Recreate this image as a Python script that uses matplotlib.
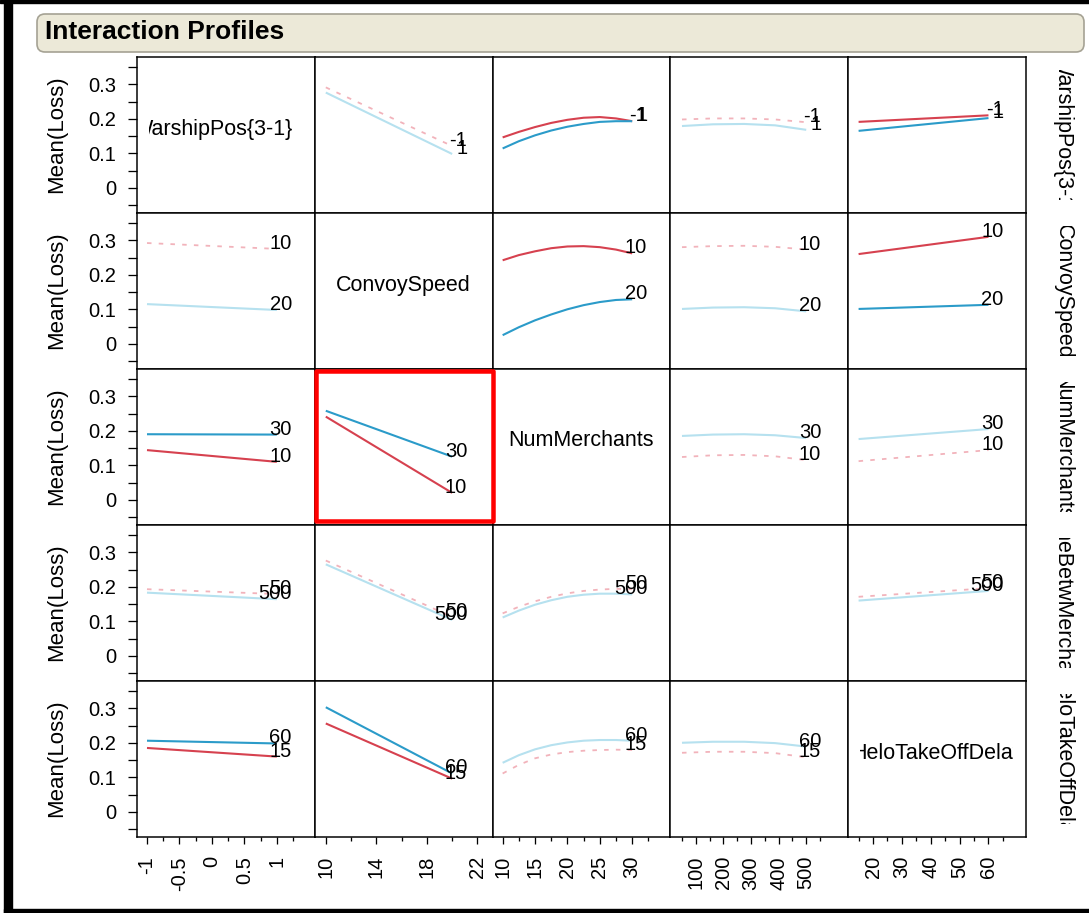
import matplotlib
matplotlib.use("Agg")
import matplotlib.pyplot as plt
from matplotlib.patches import FancyBboxPatch, Rectangle
from matplotlib.transforms import Bbox

plt.rcParams['font.family'] = ['Liberation Sans', 'DejaVu Sans']

# Factor settings
factor_names = ["WarshipPos{3-1}", "ConvoySpeed", "NumMerchants",
                "TimeBetwMerchants", "HeloTakeOffDelay"]
level_labels = [["-1", "1"], ["10", "20"], ["10", "30"], ["50", "500"], ["15", "60"]]

warship_x = [-1, 1]
convoy_x = [10, 20]
merchants_x = [10, 12.5, 15, 17.5, 20, 22.5, 25, 27.5, 30]
timebetw_x = [50, 162.5, 275, 387.5, 500]
helo_x = [15, 60]

# Mean(Loss) profiles: row factor at its low / high level, across the column factor
ws_convoy_lo = [0.291, 0.121]
ws_convoy_hi = [0.276, 0.098]
ws_merch_lo = [0.146, 0.162, 0.176, 0.188, 0.197, 0.203, 0.205, 0.201, 0.193]
ws_merch_hi = [0.114, 0.135, 0.152, 0.166, 0.177, 0.185, 0.191, 0.193, 0.193]
ws_time_lo = [0.198, 0.201, 0.201, 0.198, 0.190]
ws_time_hi = [0.179, 0.184, 0.185, 0.181, 0.168]
ws_helo_lo = [0.191, 0.210]
ws_helo_hi = [0.165, 0.202]

cs_ws_lo = [0.292, 0.275]
cs_ws_hi = [0.115, 0.098]
cs_merch_lo = [0.242, 0.257, 0.268, 0.277, 0.282, 0.283, 0.280, 0.273, 0.262]
cs_merch_hi = [0.025, 0.048, 0.068, 0.085, 0.100, 0.112, 0.121, 0.127, 0.129]
cs_time_lo = [0.280, 0.283, 0.284, 0.281, 0.273]
cs_time_hi = [0.101, 0.105, 0.106, 0.103, 0.094]
cs_helo_lo = [0.260, 0.310]
cs_helo_hi = [0.101, 0.113]

nm_ws_lo = [0.144, 0.110]
nm_ws_hi = [0.190, 0.189]
nm_convoy_lo = [0.241, 0.020]
nm_convoy_hi = [0.258, 0.125]
nm_time_lo = [0.124, 0.129, 0.130, 0.126, 0.115]
nm_time_hi = [0.185, 0.189, 0.190, 0.187, 0.179]
nm_helo_lo = [0.112, 0.144]
nm_helo_hi = [0.176, 0.205]

tb_ws_lo = [0.193, 0.179]
tb_ws_hi = [0.183, 0.164]
tb_convoy_lo = [0.276, 0.113]
tb_convoy_hi = [0.265, 0.104]
tb_merch_lo = [0.123, 0.142, 0.158, 0.171, 0.181, 0.188, 0.192, 0.194, 0.193]
tb_merch_hi = [0.111, 0.131, 0.148, 0.161, 0.171, 0.177, 0.180, 0.180, 0.178]
tb_helo_lo = [0.171, 0.196]
tb_helo_hi = [0.160, 0.188]

hd_ws_lo = [0.185, 0.160]
hd_ws_hi = [0.206, 0.198]
hd_convoy_lo = [0.256, 0.096]
hd_convoy_hi = [0.303, 0.111]
hd_merch_lo = [0.111, 0.136, 0.155, 0.166, 0.173, 0.177, 0.179, 0.180, 0.179]
hd_merch_hi = [0.142, 0.164, 0.181, 0.193, 0.201, 0.206, 0.208, 0.208, 0.206]
hd_time_lo = [0.171, 0.174, 0.174, 0.170, 0.158]
hd_time_hi = [0.200, 0.203, 0.203, 0.199, 0.189]

# strong interaction -> bright lines, otherwise faded
significant = [
    [None, False, True, False, True],
    [False, None, True, False, True],
    [True, True, None, False, False],
    [False, False, False, None, False],
    [True, True, False, False, None],
]

# axis ticks
x_major = [[-1, -0.5, 0, 0.5, 1], [10, 14, 18, 22], [10, 15, 20, 25, 30],
           [100, 200, 300, 400, 500], [20, 30, 40, 50, 60]]
x_major_labels = [["-1", "-0.5", "0", "0.5", "1"], ["10", "14", "18", "22"],
                  ["10", "15", "20", "25", "30"], ["100", "200", "300", "400", "500"],
                  ["20", "30", "40", "50", "60"]]
x_minor = [[-0.75, -0.25, 0.25, 0.75, 1.25], [12, 16, 20], [12.5, 17.5, 22.5, 27.5, 32.5],
           [50, 150, 250, 350, 450, 550], [15, 25, 35, 45, 55, 65]]
y_major = [0, 0.1, 0.2, 0.3]
y_major_labels = ["0", "0.1", "0.2", "0.3"]
y_minor = [-0.05, 0.05, 0.15, 0.25, 0.35]

x_values = [warship_x, convoy_x, merchants_x, timebetw_x, helo_x]
profiles = {
    (0, 1): (ws_convoy_lo, ws_convoy_hi), (0, 2): (ws_merch_lo, ws_merch_hi),
    (0, 3): (ws_time_lo, ws_time_hi), (0, 4): (ws_helo_lo, ws_helo_hi),
    (1, 0): (cs_ws_lo, cs_ws_hi), (1, 2): (cs_merch_lo, cs_merch_hi),
    (1, 3): (cs_time_lo, cs_time_hi), (1, 4): (cs_helo_lo, cs_helo_hi),
    (2, 0): (nm_ws_lo, nm_ws_hi), (2, 1): (nm_convoy_lo, nm_convoy_hi),
    (2, 3): (nm_time_lo, nm_time_hi), (2, 4): (nm_helo_lo, nm_helo_hi),
    (3, 0): (tb_ws_lo, tb_ws_hi), (3, 1): (tb_convoy_lo, tb_convoy_hi),
    (3, 2): (tb_merch_lo, tb_merch_hi), (3, 4): (tb_helo_lo, tb_helo_hi),
    (4, 0): (hd_ws_lo, hd_ws_hi), (4, 1): (hd_convoy_lo, hd_convoy_hi),
    (4, 2): (hd_merch_lo, hd_merch_hi), (4, 3): (hd_time_lo, hd_time_hi),
}

# layout (pixels)
W, H = 1089, 913
GRID_L, GRID_T = 137, 57
CELL_W, CELL_H = (1026 - 137) / 5, 156
xlims = [(-1.154, 1.585), (9.13, 23.2), (8.45, 35.9), (8, 652), (11.4, 73)]
ylim = (-0.073, 0.379)
diag_xfrac = [0.43, 0.5, 0.5, None, 0.5]

RED, BLUE = "#D6414F", "#2B9BC9"
PINK, LIGHTBLUE = "#F2B3BB", "#B6E1EF"
FS = 14.5
NAME_FS = 15.5
PX = 0.72  # points per pixel at dpi 100

fig = plt.figure(figsize=(W / 100, H / 100), dpi=100)
fig.patch.set_facecolor("white")

ov = fig.add_axes([0, 0, 1, 1], zorder=10)
ov.set_xlim(0, W)
ov.set_ylim(H, 0)
ov.axis("off")
ov.patch.set_alpha(0)


def px_bbox(x0, y0, x1, y1):
    # bbox in display coords from image pixel corners
    p0 = ov.transData.transform((x0, y1))
    p1 = ov.transData.transform((x1, y0))
    return Bbox([p0, p1])


for r in range(5):
    for c in range(5):
        x0 = GRID_L + c * CELL_W
        y0 = GRID_T + r * CELL_H
        ax = fig.add_axes([x0 / W, 1 - (y0 + CELL_H) / H, CELL_W / W, CELL_H / H])
        ax.set_xlim(*xlims[c])
        ax.set_ylim(*ylim)
        for s in ax.spines.values():
            s.set_linewidth(1.5 * PX)
            s.set_color("black")

        if (r, c) in profiles:
            lo, hi = profiles[(r, c)]
            xs = x_values[c]
            if significant[r][c]:
                ax.plot(xs, lo, color=RED, lw=1.5, solid_capstyle="butt")
                ax.plot(xs, hi, color=BLUE, lw=1.5, solid_capstyle="butt")
            else:
                ax.plot(xs, lo, color=PINK, lw=1.3, linestyle=(0, (2.5, 4.0)))
                ax.plot(xs, hi, color=LIGHTBLUE, lw=1.5, solid_capstyle="butt")
            # level labels, right-aligned just past the line ends
            for ys, lab in zip((lo, hi), level_labels[r]):
                ax.annotate(lab, xy=(xs[-1], ys[-1]), xytext=(15 * PX, 0),
                            textcoords="offset points", ha="right", va="baseline",
                            fontsize=FS, annotation_clip=False)

        if c == 0:
            ax.set_yticks(y_major)
            ax.set_yticklabels(y_major_labels)
            ax.set_yticks(y_minor, minor=True)
            ax.tick_params(axis="y", which="both", direction="out", length=9 * PX,
                           width=1.3 * PX, pad=12 * PX, labelsize=FS)
        else:
            ax.set_yticks([])
        if r == 4:
            ax.set_xticks(x_major[c])
            ax.set_xticklabels(x_major_labels[c], rotation=90)
            ax.set_xticks(x_minor[c], minor=True)
            ax.tick_params(axis="x", which="major", direction="out", length=7 * PX,
                           width=1.3 * PX, pad=12 * PX, labelsize=FS)
            ax.tick_params(axis="x", which="minor", direction="out", length=4 * PX,
                           width=1.3 * PX)
        else:
            ax.set_xticks([])

        # factor name on the diagonal, clipped to the cell
        if r == c and diag_xfrac[r] is not None:
            t = ov.text(x0 + diag_xfrac[r] * CELL_W, y0 + 72, factor_names[r],
                        ha="center", va="center", fontsize=NAME_FS)
            t.set_clip_box(px_bbox(x0 + 12, y0, x0 + CELL_W - 13, y0 + CELL_H))
            t.set_clip_on(True)

    # row labels on both sides
    yc = GRID_T + r * CELL_H + CELL_H / 2
    ov.text(57, yc - 1, "Mean(Loss)", rotation=90, ha="center", va="center",
            fontsize=16)
    t = ov.text(1063, yc, factor_names[r], rotation=-90, ha="center", va="center",
                fontsize=NAME_FS)
    t.set_clip_box(px_bbox(1030, yc - CELL_H / 2 + 13, W, yc + CELL_H / 2 - 13))
    t.set_clip_on(True)

# highlighted cell
ov.add_patch(Rectangle((315.5, 371.5), 177.5, 150, fill=False, edgecolor="#FF0000",
                       lw=4.5 * PX, joinstyle="round"))

# title bar
ov.add_patch(FancyBboxPatch((37, 14), 1047, 38,
                            boxstyle="round,pad=0,rounding_size=8",
                            facecolor="#ECE9D8", edgecolor="#A5A294", lw=1.2))
ov.text(45, 32, "Interaction Profiles", ha="left", va="center", fontsize=19,
        fontweight="bold")

# window frame
ov.add_patch(Rectangle((4, 0), 8, H, color="black"))
ov.add_patch(Rectangle((0, 0), W, 3.5, color="black"))
ov.add_patch(Rectangle((4, 909), W - 4, 4, color="black"))

fig.savefig("out.png", dpi=100)
